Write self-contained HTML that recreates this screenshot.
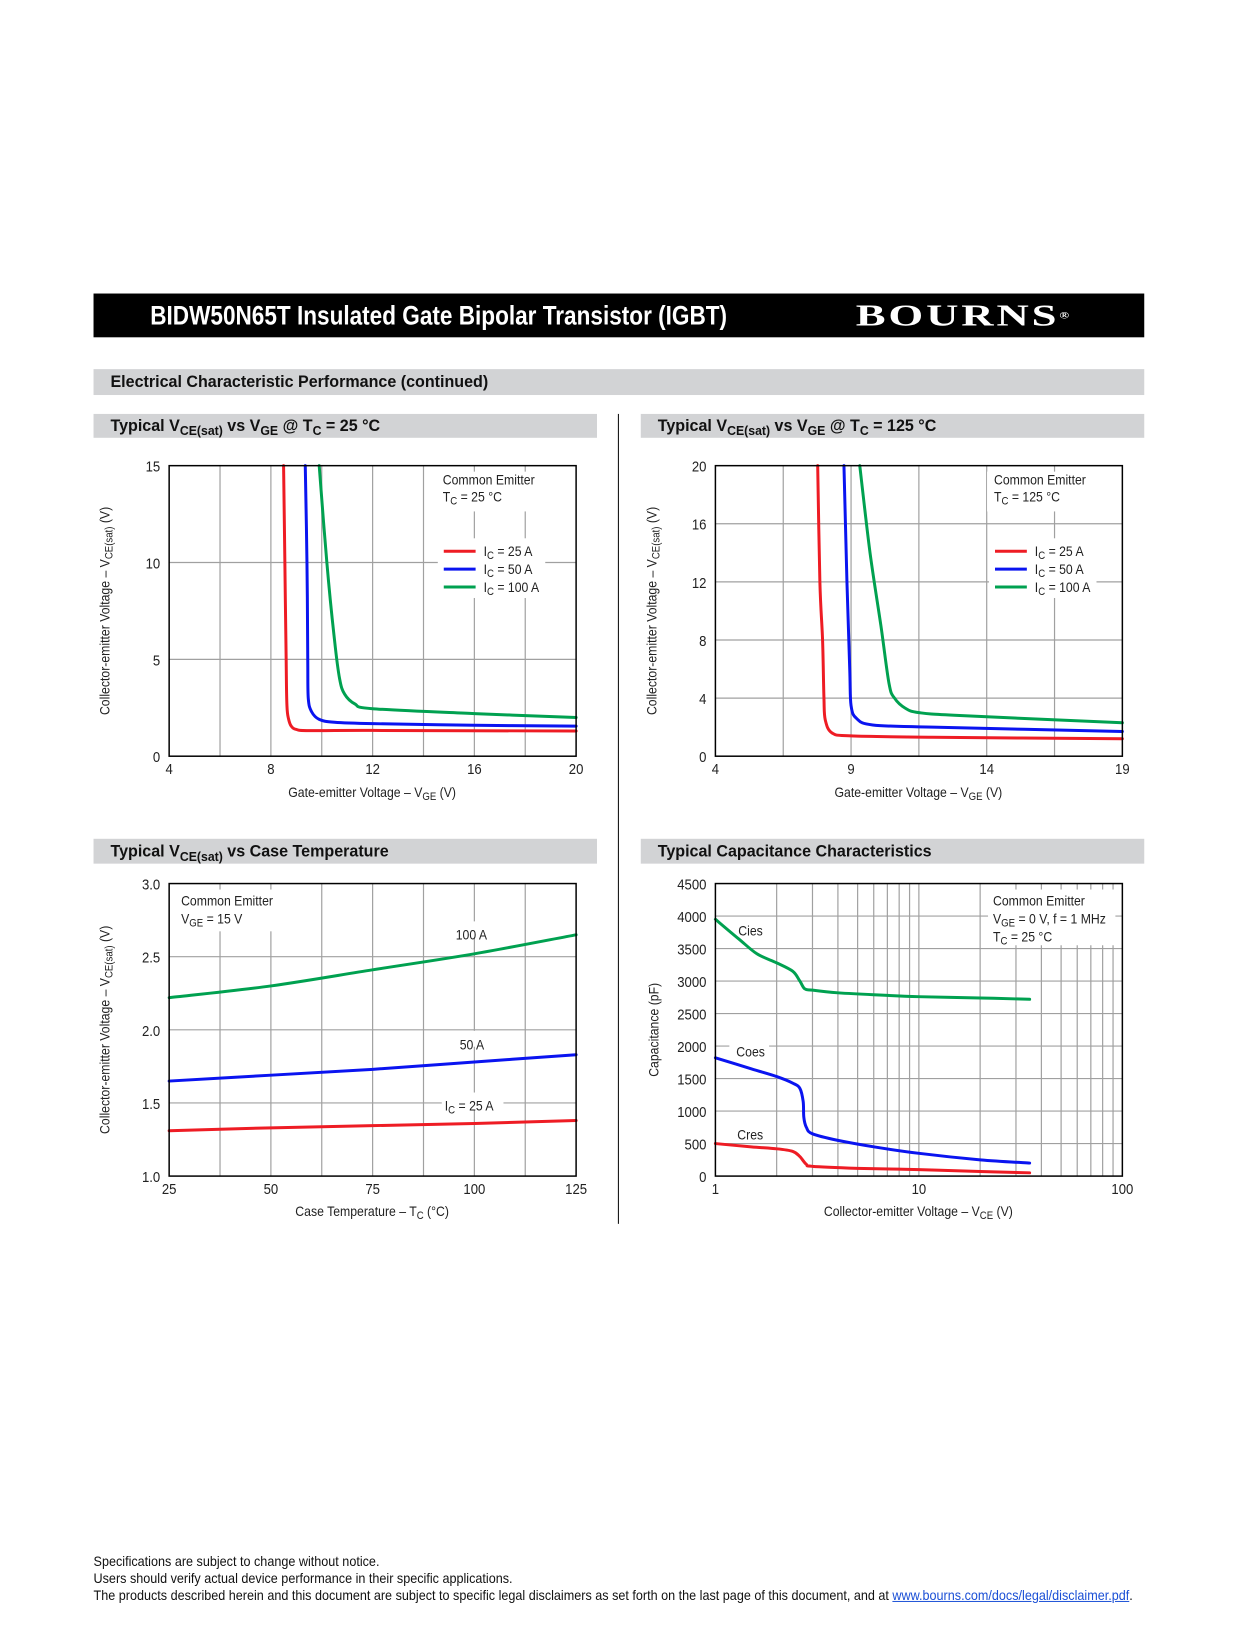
<!DOCTYPE html>
<html><head><meta charset="utf-8">
<style>
html,body{margin:0;padding:0;background:#fff;}
body{width:1238px;height:1650px;position:relative;overflow:hidden;font-family:"Liberation Sans",sans-serif;}
#wrap{position:absolute;left:0;top:0;width:1238px;height:1650px;transform:scale(0.995);transform-origin:0 0;}
.band{position:absolute;background:#d2d3d5;font-weight:bold;color:#111;white-space:nowrap;}
.band span.c{display:inline-block;transform:scaleX(0.95);transform-origin:left;}
.foot{position:absolute;left:94px;font-size:14px;color:#111;white-space:nowrap;transform:scaleX(0.905);transform-origin:left;}
svg text{font-family:"Liberation Sans",sans-serif;fill:#222;}
</style></head><body>
<div id="wrap">
<div style="position:absolute;left:94px;top:295px;width:1056px;height:44px;background:#000;"></div>
<div style="position:absolute;left:151px;top:300px;color:#fff;font-weight:bold;font-size:27px;line-height:34px;white-space:nowrap;transform:scaleX(0.84);transform-origin:left;">BIDW50N65T Insulated Gate Bipolar Transistor (IGBT)</div>
<div style="position:absolute;left:860px;top:300px;color:#fff;font-family:'Liberation Serif',serif;font-weight:bold;font-size:31px;letter-spacing:2px;line-height:34px;white-space:nowrap;transform:scaleX(1.45);transform-origin:left;">BOURNS<sup style="font-size:9px;vertical-align:top;">®</sup></div>

<div class="band" style="left:94px;top:371px;width:1056px;height:26px;font-size:17px;line-height:26px;padding-left:17px;box-sizing:border-box;"><span class="c">Electrical Characteristic Performance (continued)</span></div>
<div class="band" style="left:94px;top:416px;width:506px;height:24px;font-size:17px;line-height:24px;padding-left:17px;box-sizing:border-box;"><span class="c">Typical V<sub style="font-size:13px">CE(sat)</sub> vs V<sub style="font-size:13px">GE</sub> @ T<sub style="font-size:13px">C</sub> = 25 °C</span></div>
<div class="band" style="left:644px;top:416px;width:506px;height:24px;font-size:17px;line-height:24px;padding-left:17px;box-sizing:border-box;"><span class="c">Typical V<sub style="font-size:13px">CE(sat)</sub> vs V<sub style="font-size:13px">GE</sub> @ T<sub style="font-size:13px">C</sub> = 125 °C</span></div>
<div class="band" style="left:94px;top:843px;width:506px;height:25px;font-size:17px;line-height:25px;padding-left:17px;box-sizing:border-box;"><span class="c">Typical V<sub style="font-size:13px">CE(sat)</sub> vs Case Temperature</span></div>
<div class="band" style="left:644px;top:843px;width:506px;height:25px;font-size:17px;line-height:25px;padding-left:17px;box-sizing:border-box;"><span class="c">Typical Capacitance Characteristics</span></div>
<div style="position:absolute;left:621px;top:416px;width:1px;height:814px;background:#000;"></div>

<svg id="charts" width="1238" height="1650" style="position:absolute;left:0;top:0;"></svg>

<div class="foot" style="top:1561px;">Specifications are subject to change without notice.</div>
<div class="foot" style="top:1578px;">Users should verify actual device performance in their specific applications.</div>
<div class="foot" style="top:1595px;">The products described herein and this document are subject to specific legal disclaimers as set forth on the last page of this document, and at <span style="color:#1a4fd6;text-decoration:underline;">www.bourns.com/docs/legal/disclaimer.pdf</span>.</div>
</div>
<script>
// Chart 1 data (Tc = 25 C)
const c1X25 = [8.5,8.55,8.6,8.63,8.7,8.8,9.0,9.5,12,20];
const c1Y25 = [15,10,5,2.6,1.9,1.55,1.38,1.32,1.33,1.3];
const c1X50 = [9.35,9.42,9.45,9.47,9.6,9.9,10.5,12,16,20];
const c1Y50 = [15,10,5,3,2.3,1.9,1.75,1.68,1.6,1.55];
const c1X100 = [9.9,10.2,10.5,10.7,10.9,11.3,12,16,20];
const c1Y100 = [15,10,6,4,3.2,2.7,2.45,2.2,2.0];
const c1XTicks = [4,8,12,16,20];
const c1YTicks = [0,5,10,15];
// Chart 2 data (Tc = 125 C)
const c2X25 = [7.77,7.85,7.95,8.0,8.05,8.3,9,12,19];
const c2Y25 = [20,12,8,4,2.5,1.6,1.4,1.3,1.2];
const c2X50 = [8.74,8.85,8.95,9.0,9.2,9.8,12,19];
const c2Y50 = [20,12,6,3.5,2.6,2.15,2.0,1.7];
const c2X100 = [9.32,9.7,10.1,10.4,10.6,11,11.5,13,19];
const c2Y100 = [20,14,9,5,4,3.3,3.0,2.8,2.3];
const c2XTicks = [4,9,14,19];
const c2YTicks = [0,4,8,12,16,20];
// Chart 3 data (Vce(sat) vs temperature)
const c3Temps = [25,50,75,100,125];
const c3I100 = [2.22,2.30,2.41,2.52,2.65];
const c3I50 = [1.65,1.69,1.73,1.78,1.83];
const c3I25 = [1.31,1.33,1.345,1.36,1.38];
const c3XTicks = [25,50,75,100,125];
const c3YTicks = [1.0,1.5,2.0,2.5,3.0];
// Chart 4 data (capacitance)
const c4VCies = [1,1.3,1.6,2.0,2.4,2.6,2.75,3,4,6,10,20,35];
const c4Cies = [3950,3650,3420,3280,3150,3000,2880,2860,2820,2790,2760,2740,2720];
const c4VCoes = [1,1.5,2,2.4,2.6,2.7,2.72,2.8,3,4,6,10,20,35];
const c4Coes = [1820,1650,1530,1430,1350,1150,900,750,650,550,450,350,250,200];
const c4VCres = [1,1.5,2,2.4,2.6,2.8,3,5,10,20,35];
const c4Cres = [500,450,420,380,300,180,150,120,100,70,50];
const c4XTicks = [1,10,100];
const c4YTicks = [0,500,1000,1500,2000,2500,3000,3500,4000,4500];

const NS='http://www.w3.org/2000/svg';
const svg=document.getElementById('charts');
const SQ=0.88;
function mk(tag,attrs,parent){const e=document.createElementNS(NS,tag);for(const k in attrs)e.setAttribute(k,attrs[k]);(parent||svg).appendChild(e);return e;}
function txt(x,y,s,size,anchor,parent){const t=mk('text',{x:0,y:0,'font-size':size,'text-anchor':anchor||'start',transform:'translate('+x+','+y+') scale('+SQ+',1)'},parent);t.innerHTML=s;return t;}

function axes(L,R,T,B,xmin,xmax,ymin,ymax,log){
  const sx=log?(v=>L+(Math.log10(v)-Math.log10(xmin))/(Math.log10(xmax)-Math.log10(xmin))*(R-L)):(v=>L+(v-xmin)/(xmax-xmin)*(R-L));
  const sy=v=>B-(v-ymin)/(ymax-ymin)*(B-T);
  return {sx,sy};
}
function grid(g,L,R,T,B,xs,ys){
  xs.forEach(x=>{const l=mk('line',{x1:x,x2:x,y1:T,y2:B,stroke:'#a0a0a0','stroke-width':1.2},g);
    
    });
  ys.forEach(y=>{const l=mk('line',{x1:L,x2:R,y1:y,y2:y,stroke:'#a0a0a0','stroke-width':1.2},g);
    
    });
}
function frame(g,L,R,T,B){const r=mk('rect',{x:L,y:T,width:R-L,height:B-T,fill:'none',stroke:'#000','stroke-width':1.5},g);
  
  }
function series(g,xs,ys,sc,color,name){
  const P=xs.map((x,i)=>[sc.sx(x),sc.sy(ys[i])]);
  let d='M'+P[0][0].toFixed(1)+','+P[0][1].toFixed(1);
  for(let i=0;i<P.length-1;i++){
    const p0=P[Math.max(0,i-1)],p1=P[i],p2=P[i+1],p3=P[Math.min(P.length-1,i+2)];
    const c1=[p1[0]+(p2[0]-p0[0])/6,p1[1]+(p2[1]-p0[1])/6];
    const c2=[p2[0]-(p3[0]-p1[0])/6,p2[1]-(p3[1]-p1[1])/6];
    d+=' C'+c1[0].toFixed(1)+','+c1[1].toFixed(1)+' '+c2[0].toFixed(1)+','+c2[1].toFixed(1)+' '+p2[0].toFixed(1)+','+p2[1].toFixed(1);
  }
  const p=mk('path',{d:d,fill:'none',stroke:color,'stroke-width':3,'stroke-linejoin':'round','stroke-linecap':'round'},g);
  
  
}
function whiteBox(g,x,y,w,h){mk('rect',{x:x,y:y,width:w,height:h,fill:'#fff'},g);}
function ticks(g,sc,xt,yt,B,L,fmtX,fmtY){
  xt.forEach(v=>{const t=txt(sc.sx(v),B+18,fmtX?fmtX(v):v,15,'middle',g);
    
    });
  yt.forEach(v=>{const t=txt(L-9,sc.sy(v)+6,fmtY?fmtY(v):v,15,'end',g);
    
    });
}
function ytitle(g,x,y,s){const t=mk('text',{x:0,y:0,'font-size':14,'text-anchor':'middle',transform:'translate('+x+','+y+') rotate(-90) scale('+SQ+',1)'},g);t.innerHTML=s;
  
  }
function xtitle(g,x,y,s){const t=txt(x,y,s,14,'middle',g);
  
  }
const RED='#ee1c24',BLUE='#0a14f0',GREEN='#00a150';
const sub=s=>'<tspan font-size="11" dy="3">'+s+'</tspan><tspan dy="-3">\u200b</tspan>';

function legendIc(g,x,y){
  [[RED,'25 A'],[BLUE,'50 A'],[GREEN,'100 A']].forEach((e,i)=>{
    const l=mk('line',{x1:x,x2:x+32,y1:y+i*18,y2:y+i*18,stroke:e[0],'stroke-width':3},g);
    
    
    const t=txt(x+40,y+i*18+5,'I'+sub('C')+' = '+e[1],14,'start',g);
    
    
  });
}

// Chart 1
(function(){
  const L=170,R=579,T=468,B=760;
  const g=mk('g',{});
  const sc=axes(L,R,T,B,4,20,0,15);
  grid(g,L,R,T,B,[6,8,10,12,14,16,18].map(sc.sx),[5,10].map(sc.sy));
  whiteBox(g,438,474,116,40);whiteBox(g,440,541,108,60);
  series(g,c1X25,c1Y25,sc,RED,'series-ic-25a');
  series(g,c1X50,c1Y50,sc,BLUE,'series-ic-50a');
  series(g,c1X100,c1Y100,sc,GREEN,'series-ic-100a');
  frame(g,L,R,T,B);
  txt(445,487,'Common Emitter',14,'start',g);
  txt(445,504,'T'+sub('C')+' = 25 °C',14,'start',g);
  legendIc(g,446,554);
  ticks(g,sc,c1XTicks,c1YTicks,B,L);
  ytitle(g,110,614,'Collector-emitter Voltage – V'+sub('CE(sat)')+' (V)');
  xtitle(g,374,801,'Gate-emitter Voltage – V'+sub('GE')+' (V)');
})();
// Chart 2
(function(){
  const L=719,R=1128,T=468,B=760;
  const g=mk('g',{});
  const sc=axes(L,R,T,B,4,19,0,20);
  grid(g,L,R,T,B,[6.5,9,11.5,14,16.5].map(sc.sx),[4,8,12,16].map(sc.sy));
  whiteBox(g,992,474,116,40);whiteBox(g,994,541,108,60);
  series(g,c2X25,c2Y25,sc,RED,'series-ic-25a');
  series(g,c2X50,c2Y50,sc,BLUE,'series-ic-50a');
  series(g,c2X100,c2Y100,sc,GREEN,'series-ic-100a');
  frame(g,L,R,T,B);
  txt(999,487,'Common Emitter',14,'start',g);
  txt(999,504,'T'+sub('C')+' = 125 °C',14,'start',g);
  legendIc(g,1000,554);
  ticks(g,sc,c2XTicks,c2YTicks,B,L);
  ytitle(g,660,614,'Collector-emitter Voltage – V'+sub('CE(sat)')+' (V)');
  xtitle(g,923,801,'Gate-emitter Voltage – V'+sub('GE')+' (V)');
})();
// Chart 3
(function(){
  const L=170,R=579,T=888,B=1182;
  const g=mk('g',{});
  const sc=axes(L,R,T,B,25,125,1.0,3.0);
  grid(g,L,R,T,B,[37.5,50,62.5,75,87.5,100,112.5].map(sc.sx),[1.5,2.0,2.5].map(sc.sy));
  whiteBox(g,177,894,108,42);whiteBox(g,452,926,48,16);whiteBox(g,456,1036,38,16);whiteBox(g,444,1098,62,18);
  series(g,c3Temps,c3I100,sc,GREEN,'series-ic-100a');
  series(g,c3Temps,c3I50,sc,BLUE,'series-ic-50a');
  series(g,c3Temps,c3I25,sc,RED,'series-ic-25a');
  frame(g,L,R,T,B);
  txt(182,910,'Common Emitter',14,'start',g);
  txt(182,928,'V'+sub('GE')+' = 15 V',14,'start',g);
  txt(458,944,'100 A',14,'start',g);
  txt(462,1055,'50 A',14,'start',g);
  txt(447,1116,'I'+sub('C')+' = 25 A',14,'start',g);
  ticks(g,sc,c3XTicks,c3YTicks,B,L,null,v=>v.toFixed(1));
  ytitle(g,110,1035,'Collector-emitter Voltage – V'+sub('CE(sat)')+' (V)');
  xtitle(g,374,1222,'Case Temperature – T'+sub('C')+' (°C)');
})();
// Chart 4
(function(){
  const L=719,R=1128,T=888,B=1182;
  const g=mk('g',{});
  const sc=axes(L,R,T,B,1,100,0,4500,true);
  const vx=[];for(const d of [1,10])for(let k=2;k<=9;k++)vx.push(sc.sx(d*k));vx.push(sc.sx(10));
  grid(g,L,R,T,B,vx,[500,1000,1500,2000,2500,3000,3500,4000].map(sc.sy));
  whiteBox(g,993,894,128,56);whiteBox(g,735,923,40,16);whiteBox(g,733,1047,40,16);whiteBox(g,733,1130,38,16);
  series(g,c4VCies,c4Cies,sc,GREEN,'series-cies');
  series(g,c4VCoes,c4Coes,sc,BLUE,'series-coes');
  series(g,c4VCres,c4Cres,sc,RED,'series-cres');
  frame(g,L,R,T,B);
  txt(998,910,'Common Emitter',14,'start',g);
  txt(998,928,'V'+sub('GE')+' = 0 V, f = 1 MHz',14,'start',g);
  txt(998,946,'T'+sub('C')+' = 25 °C',14,'start',g);
  txt(742,940,'Cies',14,'start',g);
  txt(740,1062,'Coes',14,'start',g);
  txt(741,1145,'Cres',14,'start',g);
  ticks(g,sc,c4XTicks,c4YTicks,B,L);
  ytitle(g,662,1035,'Capacitance (pF)');
  xtitle(g,923,1222,'Collector-emitter Voltage – V'+sub('CE')+' (V)');
})();
</script>
</body></html>
